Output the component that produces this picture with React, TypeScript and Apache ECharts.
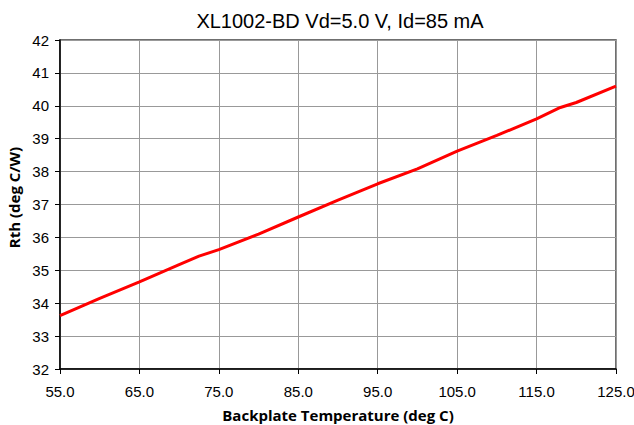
import React, { useEffect, useRef } from "react";
import * as echarts from "echarts";

const temperatures = [55, 60, 65, 70, 72.5, 75, 80, 85, 90, 95, 100, 105, 110, 115, 118, 120, 125];
const rth = [33.62, 34.15, 34.65, 35.17, 35.43, 35.63, 36.1, 36.62, 37.13, 37.63, 38.08, 38.62, 39.1, 39.6, 39.95, 40.1, 40.6];
const chartTitle = "XL1002-BD Vd=5.0 V, Id=85 mA";
const xTitle = "Backplate Temperature (deg C)";
const yTitle = "Rth (deg C/W)";

const FONT = "'Liberation Sans', Arial, sans-serif";
const TITLE_FONT = "'Open Sans', 'Liberation Sans', sans-serif";

export default function App() {
  const ref = useRef<HTMLDivElement>(null);
  useEffect(() => {
    if (!ref.current) return;
    const chart = echarts.init(ref.current, undefined, { renderer: "svg" });
    chart.setOption({
      animation: false,
      backgroundColor: "#ffffff",
      textStyle: { fontFamily: FONT },
      title: {
        text: chartTitle,
        left: 335,
        textAlign: "center",
        top: 6,
        textStyle: { fontFamily: FONT, fontSize: 20, fontWeight: "normal", color: "#000" },
      },
      grid: {
        left: 60,
        top: 40,
        right: 18,
        bottom: 56,
        show: true,
        borderColor: "#404040",
        borderWidth: 1.5,
        outerBoundsMode: "none",
        containLabel: false,
      },
      xAxis: {
        type: "value",
        min: 55,
        max: 125,
        interval: 10,
        name: xTitle,
        nameLocation: "middle",
        nameGap: 38,
        nameTextStyle: { fontFamily: TITLE_FONT, fontSize: 15, fontWeight: "bold", color: "#000" },
        axisLine: { show: true, lineStyle: { color: "#000", width: 1.5 } },
        axisTick: { show: true, length: 5, lineStyle: { color: "#000" } },
        axisLabel: {
          fontFamily: FONT,
          fontSize: 15,
          color: "#000",
          margin: 15,
          formatter: (v: number) => v.toFixed(1),
        },
        splitLine: { show: true, lineStyle: { color: "#999", width: 1 } },
      },
      yAxis: {
        type: "value",
        min: 32,
        max: 42,
        interval: 1,
        name: yTitle,
        nameLocation: "middle",
        nameGap: 37,
        nameRotate: 90,
        nameTextStyle: {
          fontFamily: TITLE_FONT,
          fontSize: 15,
          fontWeight: "bold",
          color: "#000",
          padding: [0, 0, 0, 14],
        },
        axisLine: { show: true, lineStyle: { color: "#000", width: 1.5 } },
        axisTick: { show: true, length: 5, lineStyle: { color: "#000" } },
        axisLabel: { fontFamily: FONT, fontSize: 15, color: "#000", margin: 11 },
        splitLine: { show: true, lineStyle: { color: "#999", width: 1 } },
      },
      series: [
        {
          type: "line",
          data: temperatures.map((t, i) => [t, rth[i]]),
          showSymbol: false,
          symbol: "none",
          lineStyle: { color: "#ff0000", width: 3 },
        },
      ],
    });
    return () => chart.dispose();
  }, []);
  return <div ref={ref} style={{ width: 634, height: 425, position: "absolute", left: 0, top: 0 }} />;
}
